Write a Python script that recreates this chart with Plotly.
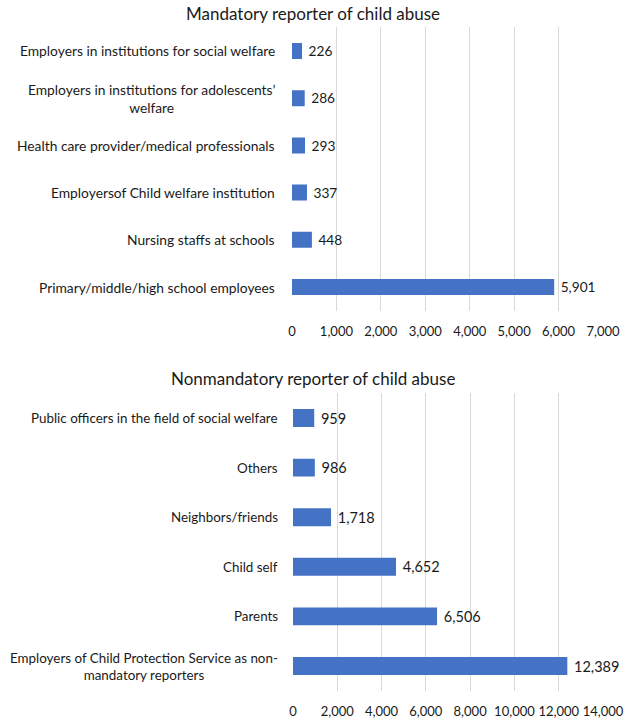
import plotly.graph_objects as go

mand_categories = [
    "Employers in institutions for social welfare",
    "Employers in institutions for adolescents’<br>welfare",
    "Health care provider/medical professionals",
    "Employersof Child welfare institution",
    "Nursing staffs at schools",
    "Primary/middle/high school employees",
]
mand_values = [226, 286, 293, 337, 448, 5901]

nonmand_categories = [
    "Public officers in the field of social welfare",
    "Others",
    "Neighbors/friends",
    "Child self",
    "Parents",
    "Employers of Child Protection Service as non-<br>mandatory reporters",
]
nonmand_values = [959, 986, 1718, 4652, 6506, 12389]

mand_ticks = [0, 1000, 2000, 3000, 4000, 5000, 6000, 7000]
nonmand_ticks = [0, 2000, 4000, 6000, 8000, 10000, 12000, 14000]

title_top = "Mandatory reporter of child abuse"
title_bottom = "Nonmandatory reporter of child abuse"

FONT = "Lato"
BAR = "#4472C4"
TXT = "#1a1a1a"
W, H = 628, 726

fig = go.Figure()
fig.add_trace(go.Bar(
    x=mand_values, y=mand_categories, orientation="h",
    marker=dict(color=BAR, line=dict(width=0)), width=0.34,
    text=[f"{v:,}" for v in mand_values], textposition="outside",
    texttemplate=" %{text}", cliponaxis=False,
    textfont=dict(family=FONT, size=14.5, color=TXT),
    xaxis="x", yaxis="y", showlegend=False,
))
fig.add_trace(go.Bar(
    x=nonmand_values, y=nonmand_categories, orientation="h",
    marker=dict(color=BAR, line=dict(width=0)), width=0.36,
    text=[f"{v:,}" for v in nonmand_values], textposition="outside",
    texttemplate=" %{text}", cliponaxis=False,
    textfont=dict(family=FONT, size=14.5, color=TXT),
    xaxis="x2", yaxis="y2", showlegend=False,
))

def px_x(p):
    return p / W

def px_y(p):
    return 1 - p / H

axis_common = dict(showgrid=True, gridcolor="#d9d9d9", gridwidth=1, zeroline=False,
                   showline=False, ticks="outside", ticklen=9, tickcolor="rgba(0,0,0,0)",
                   tickangle=0, automargin=False,
                   tickfont=dict(family=FONT, size=13, color=TXT))

fig.update_layout(
    width=W, height=H,
    margin=dict(l=0, r=0, t=0, b=0, autoexpand=False),
    paper_bgcolor="white", plot_bgcolor="white",
    bargap=0.6,
    xaxis=dict(domain=[px_x(292), px_x(603)], range=[0, 7000], tickvals=mand_ticks,
               ticktext=[f"{t:,}" for t in mand_ticks], anchor="y", **axis_common),
    yaxis=dict(domain=[px_y(310.6), px_y(27.4)], autorange="reversed", showticklabels=False,
               showgrid=False, zeroline=False, showline=False, anchor="x", automargin=False),
    xaxis2=dict(domain=[px_x(293), px_x(603)], range=[0, 14000], tickvals=nonmand_ticks,
                ticktext=[f"{t:,}" for t in nonmand_ticks], anchor="y2", **axis_common),
    yaxis2=dict(domain=[px_y(690.8), px_y(393.2)], autorange="reversed", showticklabels=False,
                showgrid=False, zeroline=False, showline=False, anchor="x2", automargin=False),
)

annotations = []
for cat in mand_categories:
    annotations.append(dict(x=px_x(277), xref="paper", y=cat, yref="y", text=cat,
                            showarrow=False, xanchor="right", yanchor="middle", align="center",
                            font=dict(family=FONT, size=13.8, color=TXT)))
for cat in nonmand_categories:
    annotations.append(dict(x=px_x(280), xref="paper", y=cat, yref="y2", text=cat,
                            showarrow=False, xanchor="right", yanchor="middle", align="center",
                            font=dict(family=FONT, size=13.4, color=TXT)))
annotations.append(dict(x=px_x(313), y=px_y(14), xref="paper", yref="paper", text=title_top,
                        showarrow=False, xanchor="center", yanchor="middle",
                        font=dict(family=FONT, size=17, color=TXT)))
annotations.append(dict(x=px_x(313), y=px_y(378), xref="paper", yref="paper", text=title_bottom,
                        showarrow=False, xanchor="center", yanchor="middle",
                        font=dict(family=FONT, size=17, color=TXT)))
fig.update_layout(annotations=annotations)

fig.write_html("out.html", config={"displayModeBar": False},
               post_script="document.body.style.margin='0';document.body.style.padding='0';")
